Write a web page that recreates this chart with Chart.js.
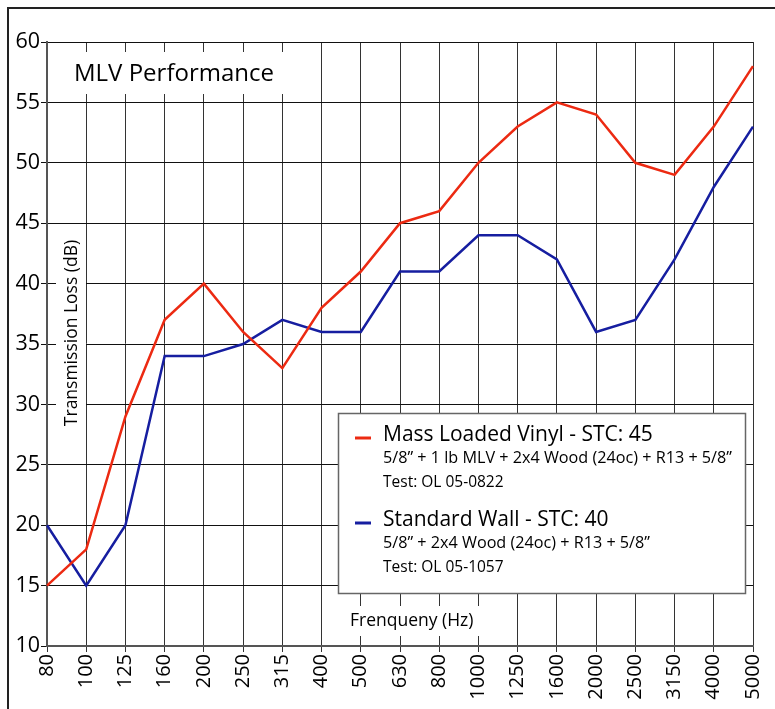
<!DOCTYPE html>
<html>
<head>
<meta charset="utf-8">
<script src="https://cdn.jsdelivr.net/npm/chart.js@4.4.0/dist/chart.umd.min.js"></script>
<style>
html,body{margin:0;padding:0;background:#fff;}
#wrap{position:absolute;left:0;top:0;width:775px;height:709px;}
</style>
</head>
<body>
<div id="wrap"><canvas id="c" width="775" height="709"></canvas></div>
<script>
const frequencies = ['80','100','125','160','200','250','315','400','500','630','800','1000','1250','1600','2000','2500','3150','4000','5000'];
const mlvValues = [15,18,29,37,40,36,33,38,41,45,46,50,53,55,54,50,49,53,58];
const standardValues = [20,15,20,34,34,35,37,36,36,41,41,44,44,42,36,37,42,48,53];
const seriesNames = ['Mass Loaded Vinyl - STC: 45','Standard Wall - STC: 40'];
const seriesDetails = ['5/8\u201d + 1 lb MLV + 2x4 Wood (24oc) + R13 + 5/8\u201d','5/8\u201d + 2x4 Wood (24oc) + R13 + 5/8\u201d'];
const seriesTests = ['Test: OL 05-0822','Test: OL 05-1057'];
const chartTitle = 'MLV Performance';
const yTitle = 'Transmission Loss (dB)';
const xTitle = 'Frenqueny (Hz)';

const RED = 'rgb(236,42,18)';
const BLUE = 'rgb(22,30,160)';
const FONT = "'Open Sans', 'Noto Sans', sans-serif";

const decor = {
  id: 'decor',
  beforeDatasetsDraw(chart) {
    const ctx = chart.ctx;
    const a = chart.chartArea;
    ctx.save();
    // title box
    ctx.fillStyle = '#fff';
    ctx.fillRect(a.left + 2, 52, 252, 42);
    ctx.fillStyle = '#000';
    ctx.font = '24px ' + FONT;
    ctx.textBaseline = 'middle';
    ctx.textAlign = 'left';
    ctx.fillText(chartTitle, 74, 74);
    // y title
    ctx.fillStyle = '#fff';
    ctx.fillRect(56, 234, 30, 198);
    ctx.save();
    ctx.translate(72, 333);
    ctx.rotate(-Math.PI/2);
    ctx.fillStyle = '#000';
    ctx.font = '17.5px ' + FONT;
    ctx.textAlign = 'center';
    ctx.textBaseline = 'middle';
    ctx.fillText(yTitle, 0, 0);
    ctx.restore();
    // x title
    ctx.fillStyle = '#fff';
    ctx.fillRect(342, 606, 146, 30);
    ctx.fillStyle = '#000';
    ctx.font = '17.5px ' + FONT;
    ctx.textAlign = 'left';
    ctx.fillText(xTitle, 350, 621);
    ctx.restore();
  },
  afterDraw(chart) {
    const ctx = chart.ctx;
    ctx.save();
    // outer frame
    ctx.strokeStyle = '#222';
    ctx.lineWidth = 2;
    ctx.beginPath();
    ctx.moveTo(8, 709);
    ctx.lineTo(8, 8);
    ctx.lineTo(775, 8);
    ctx.stroke();
    // legend box
    ctx.fillStyle = '#fff';
    ctx.fillRect(338, 413, 407, 180);
    ctx.strokeStyle = '#666';
    ctx.lineWidth = 1.5;
    ctx.strokeRect(338.5, 413.5, 407, 180);
    const colors = [RED, BLUE];
    const baseY = [435, 520];
    for (let i = 0; i < 2; i++) {
      const y = baseY[i];
      ctx.strokeStyle = colors[i];
      ctx.lineWidth = 3;
      ctx.beginPath();
      ctx.moveTo(355, y + 3);
      ctx.lineTo(371, y + 3);
      ctx.stroke();
      ctx.fillStyle = '#000';
      ctx.textAlign = 'left';
      ctx.textBaseline = 'middle';
      ctx.font = '21px ' + FONT;
      ctx.fillText(seriesNames[i], 383, y);
      ctx.font = '16.2px ' + FONT;
      ctx.fillText(seriesDetails[i], 383, y + 23);
      ctx.font = '15.5px ' + FONT;
      ctx.fillText(seriesTests[i], 383, y + 48);
    }
    ctx.restore();
  }
};

new Chart(document.getElementById('c'), {
  type: 'line',
  data: {
    labels: frequencies,
    datasets: [
      {label: seriesNames[0], data: mlvValues, borderColor: RED, borderWidth: 2.5, pointRadius: 0, tension: 0, fill: false},
      {label: seriesNames[1], data: standardValues, borderColor: BLUE, borderWidth: 2.5, pointRadius: 0, tension: 0, fill: false}
    ]
  },
  options: {
    responsive: false,
    animation: false,
    devicePixelRatio: 1,
    layout: {padding: {left: 0, top: 42, right: 22, bottom: 0}},
    plugins: {legend: {display: false}, tooltip: {enabled: false}, title: {display: false}},
    scales: {
      x: {
        type: 'category',
        offset: false,
        afterFit(s) { s.height = 63; s.paddingRight = 0; s.paddingLeft = 0; },
        grid: {color: '#333', lineWidth: 1, tickLength: 6, drawTicks: true},
        border: {display: true, color: '#555', width: 2},
        ticks: {color: '#000', font: {size: 20, family: FONT}, minRotation: 90, maxRotation: 90, autoSkip: false, padding: 2}
      },
      y: {
        min: 10, max: 60,
        afterFit(s) { s.width = 47; s.paddingTop = 0; s.paddingBottom = 0; },
        grid: {color: '#111', lineWidth: 1, tickLength: 6},
        border: {display: true, color: '#555', width: 2},
        ticks: {stepSize: 5, color: '#000', font: {size: 21.5, family: FONT}, padding: 1}
      }
    }
  },
  plugins: [decor]
});
</script>
</body>
</html>
